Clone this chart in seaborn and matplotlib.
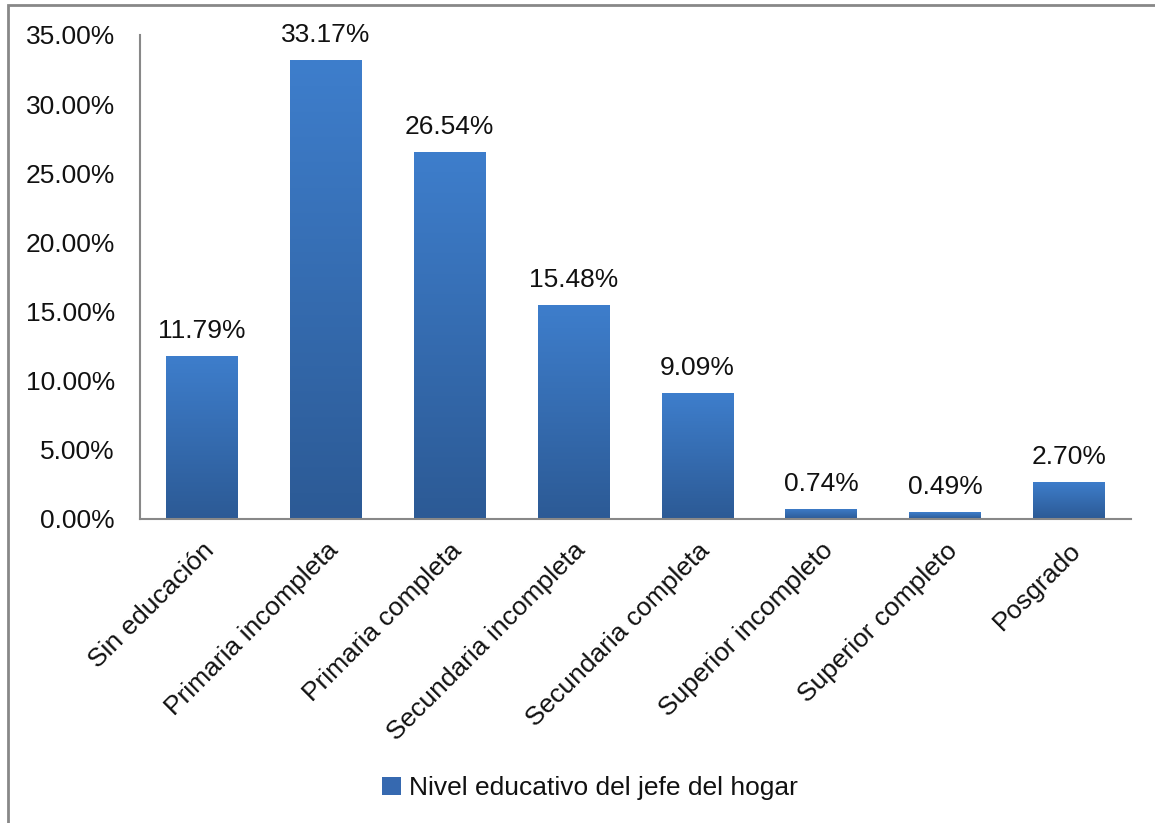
import numpy as np
import pandas as pd
import matplotlib
matplotlib.use("Agg")
import matplotlib.pyplot as plt
import seaborn as sns
from matplotlib.colors import LinearSegmentedColormap
from matplotlib.patches import Rectangle, Patch

categorias = ["Sin educación", "Primaria incompleta", "Primaria completa",
              "Secundaria incompleta", "Secundaria completa",
              "Superior incompleto", "Superior completo", "Posgrado"]
porcentajes = [11.79, 33.17, 26.54, 15.48, 9.09, 0.74, 0.49, 2.70]
serie = "Nivel educativo del jefe del hogar"
ticks_y = [0, 5, 10, 15, 20, 25, 30, 35]

sns.set_theme(style="white")
plt.rcParams["font.family"] = ["Liberation Sans", "DejaVu Sans"]

df = pd.DataFrame({"categoria": categorias, "valor": porcentajes})

fig = plt.figure(figsize=(11.55, 8.23), dpi=100)
ax = fig.add_axes([140 / 1155, 1 - 519 / 823, (1131 - 140) / 1155, (519 - 35) / 823])

sns.barplot(data=df, x="categoria", y="valor", color="#3A74BE",
            width=0.58, ax=ax, saturation=1)

# vertical gradient fill for each bar
grad = LinearSegmentedColormap.from_list("g", ["#2C5A95", "#3E7ECC"])
gimg = np.linspace(0, 1, 256).reshape(-1, 1)
for p in ax.patches:
    x0, y0 = p.get_x(), p.get_y()
    w, h = p.get_width(), p.get_height()
    p.set_facecolor("none")
    p.set_edgecolor("none")
    im = ax.imshow(gimg, cmap=grad, aspect="auto", origin="lower",
                   extent=[x0, x0 + w, y0, y0 + h], zorder=2)
    im.set_clip_path(p)
    ax.annotate(f"{h:.2f}%", (x0 + w / 2, y0 + h), xytext=(0, 18),
                textcoords="offset points", ha="center", va="center",
                fontsize=19, color="#111111")

ax.set_xlim(-0.5, len(categorias) - 0.5)
ax.set_ylim(0, 35)
ax.set_yticks(ticks_y)
ax.set_yticklabels([f"{t:.2f}%" for t in ticks_y], fontsize=19, color="#111111")
ax.set_xticks(range(len(categorias)))
ax.set_xticklabels(categorias, rotation=45, ha="right", rotation_mode="anchor",
                   fontsize=19, color="#111111")
ax.tick_params(axis="y", length=0, pad=18)
ax.tick_params(axis="x", length=0, pad=14)
ax.set_xlabel("")
ax.set_ylabel("")
for s in ["top", "right"]:
    ax.spines[s].set_visible(False)
for s in ["left", "bottom"]:
    ax.spines[s].set_color("#888888")
    ax.spines[s].set_linewidth(1.5)

handle = Patch(facecolor="#3669B0", edgecolor="none")
fig.legend([handle], [serie], loc="center", bbox_to_anchor=(590 / 1155, 1 - 788 / 823),
           frameon=False, fontsize=19, handlelength=0.7, handleheight=0.7,
           handletextpad=0.3, labelcolor="#111111")

# outer chart frame
fig.patches.append(Rectangle((8 / 1155, -0.1), 1.2, 1.1 - 5 / 823 + 0.0,
                             transform=fig.transFigure, fill=False,
                             edgecolor="#888888", linewidth=2))

fig.savefig("out.png", dpi=100)
